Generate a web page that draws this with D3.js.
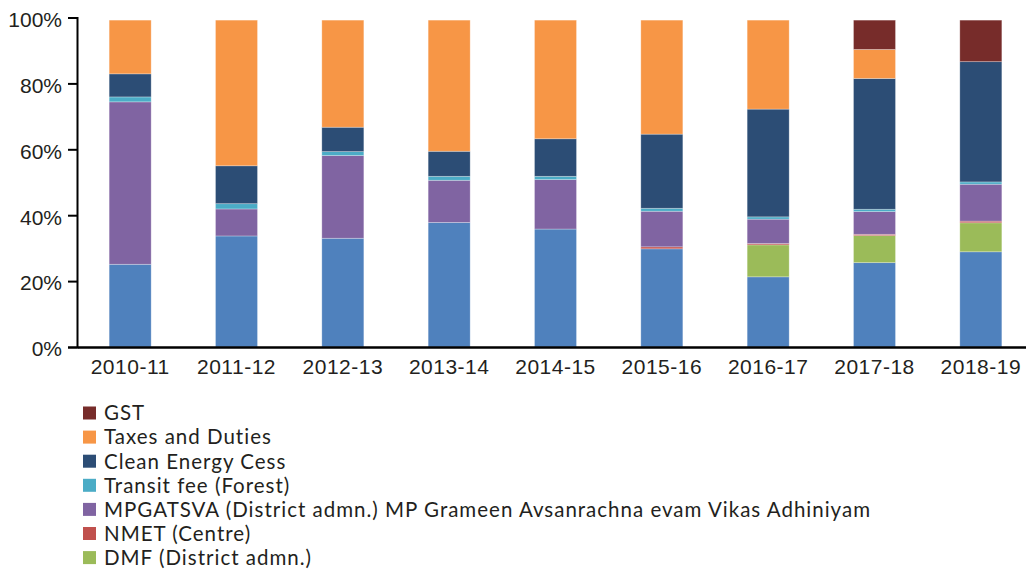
<!DOCTYPE html>
<html>
<head>
<meta charset="utf-8">
<script src="https://cdn.jsdelivr.net/npm/d3@7"></script>
<style>
  html, body { margin: 0; padding: 0; background: #fff; }
  svg { display: block; font-family: Lato, "Open Sans", sans-serif; }
</style>
</head>
<body>
<svg id="chart" width="1026" height="571"></svg>
<script>
// ---- data (percent share) ----
const years = ["2010-11","2011-12","2012-13","2013-14","2014-15","2015-16","2016-17","2017-18","2018-19"];
const seriesNames = ["Royalty","DMF (District admn.)","NMET (Centre)",
  "MPGATSVA (District admn.) MP Grameen Avsanrachna evam Vikas Adhiniyam",
  "Transit fee (Forest)","Clean Energy Cess","Taxes and Duties","GST"];
const royalty   = [25.1, 33.7, 33.0, 37.8, 35.8, 29.8, 21.3, 25.6, 28.9];
const dmf       = [0, 0, 0, 0, 0, 0, 9.7, 8.2, 8.8];
const nmet      = [0, 0, 0, 0, 0, 0.6, 0.4, 0.4, 0.5];
const mpgatsva  = [49.3, 8.2, 25.1, 12.8, 15.0, 10.8, 7.4, 6.9, 11.2];
const transit   = [1.5, 1.6, 1.2, 1.2, 1.0, 0.9, 0.7, 0.7, 0.7];
const cleanCess = [7.0, 11.5, 7.4, 7.6, 11.4, 22.5, 32.7, 39.7, 36.5];
const taxes     = [16.3, 44.2, 32.5, 39.8, 36.0, 34.6, 27.0, 8.8, 0];
const gst       = [0, 0, 0, 0, 0, 0, 0, 8.9, 12.6];
const yTicks    = [0, 20, 40, 60, 80, 100];
const legendOrder = ["GST","Taxes and Duties","Clean Energy Cess","Transit fee (Forest)",
  "MPGATSVA (District admn.) MP Grameen Avsanrachna evam Vikas Adhiniyam","NMET (Centre)","DMF (District admn.)"];
const colors = ["#4F81BD","#9BBB59","#C0504D","#8064A2","#4BACC6","#2C4D75","#F79646","#772C2A"];

const seriesValues = [royalty, dmf, nmet, mpgatsva, transit, cleanCess, taxes, gst];
const table = years.map((y, i) => {
  const row = { year: y };
  seriesNames.forEach((s, k) => row[s] = seriesValues[k][i]);
  return row;
});

const svg = d3.select("#chart");
const textColor = "#231F20";

const x = d3.scaleBand().domain(years).range([77, 1034]).paddingInner(0.605).paddingOuter(0.3025);
const y = d3.scaleLinear().domain([0, 100]).range([347, 17.5]);
const color = d3.scaleOrdinal().domain(seriesNames).range(colors);

const stack = d3.stack().keys(seriesNames);
const layers = stack(table);

const g = svg.append("g");
g.selectAll("g.layer").data(layers).join("g")
  .attr("class", "layer")
  .attr("fill", d => color(d.key))
  .selectAll("rect").data(d => d).join("rect")
  .attr("x", d => x(d.data.year))
  .attr("width", x.bandwidth())
  .attr("y", d => y(d[1]))
  .attr("height", d => Math.max(0, y(d[0]) - y(d[1])))
  .attr("stroke", "#fff").attr("stroke-opacity", 0.35).attr("stroke-width", 0.8);

// y axis
const yAxis = d3.axisLeft(y).tickValues(yTicks).tickFormat(d => d + "%")
  .tickSize(9).tickSizeOuter(9).tickPadding(6);
const ya = svg.append("g").attr("transform", "translate(77,0)").call(yAxis);
ya.selectAll("path, line").attr("stroke", "#000").attr("stroke-width", 2);
ya.selectAll("text").attr("font-size", 21).attr("fill", textColor).attr("dy", "0.42em");

// x axis
const xAxis = d3.axisBottom(x).tickSize(0).tickSizeOuter(0).tickPadding(12);
const xa = svg.append("g").attr("transform", "translate(0,347)").call(xAxis);
xa.select("path").attr("stroke", "#000").attr("stroke-width", 2.5);
xa.selectAll("text").attr("font-size", 21).attr("letter-spacing", 0.5).attr("fill", textColor);

// legend
const leg = svg.append("g").attr("transform", "translate(83,413)");
const li = leg.selectAll("g").data(legendOrder).join("g")
  .attr("transform", (d, i) => `translate(0,${i * 24.1})`);
li.append("rect").attr("x", 0).attr("y", -6.5).attr("width", 13).attr("height", 13)
  .attr("fill", d => color(d));
li.append("text").attr("x", 21).attr("y", 0).attr("dy", "0.36em")
  .attr("font-size", 20.5).attr("letter-spacing", 1).attr("fill", textColor).text(d => d);
</script>
</body>
</html>
